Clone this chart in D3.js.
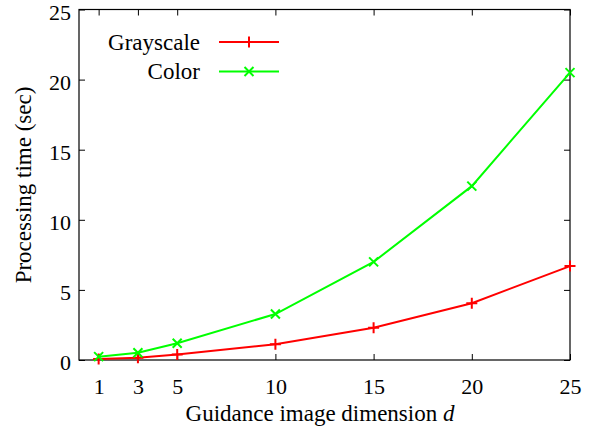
<!DOCTYPE html>
<html>
<head>
<meta charset="utf-8">
<script src="https://cdn.jsdelivr.net/npm/d3@7"></script>
</head>
<body style="margin:0; background:#fff">
<script>
var dims = [1, 3, 5, 10, 15, 20, 25];
var grayscale = [0.07, 0.16, 0.4, 1.12, 2.3, 4.05, 6.7];
var color = [0.24, 0.52, 1.19, 3.28, 7.0, 12.4, 20.5];
var yTicks = [0, 5, 10, 15, 20, 25];

var W = 590, H = 426;
var m = {left: 79, right: 20, top: 9.5, bottom: 66};
var FONT = "Liberation Serif";
var TICKFS = 22, LABFS = 23;

var svg = d3.select("body").append("svg")
    .attr("width", W)
    .attr("height", H);

var x = d3.scaleLinear().domain([0, 25]).range([m.left, W - m.right]);
var y = d3.scaleLinear().domain([0, 25]).range([H - m.bottom, m.top]);

// ticks, inward on all four sides
var tl = 6;
var axes = [];
axes.push(svg.append("g")
    .attr("transform", "translate(0," + y(0) + ")")
    .call(d3.axisBottom(x).tickValues(dims).tickSize(-tl).tickPadding(18)));
axes.push(svg.append("g")
    .attr("transform", "translate(0," + y(25) + ")")
    .call(d3.axisTop(x).tickValues(dims).tickSize(-tl).tickFormat("")));
var yAxis = svg.append("g")
    .attr("transform", "translate(" + x(0) + ",0)")
    .call(d3.axisLeft(y).tickValues(yTicks).tickSize(-tl).tickPadding(8));
axes.push(yAxis);
axes.push(svg.append("g")
    .attr("transform", "translate(" + x(25) + ",0)")
    .call(d3.axisRight(y).tickValues(yTicks).tickSize(-tl).tickFormat("")));

axes.forEach(function(g){
    g.select(".domain").remove();
    g.selectAll(".tick line").attr("stroke", "#000");
    g.selectAll(".tick text").attr("fill", "#000");
});
yAxis.selectAll(".tick text").attr("dy", "0.45em");

// frame
svg.append("rect")
    .attr("x", x(0)).attr("y", y(25))
    .attr("width", x(25) - x(0)).attr("height", y(0) - y(25))
    .attr("fill", "none").attr("stroke", "#000").attr("stroke-width", 1.2);

var line = d3.line()
    .x(function(d, i){ return x(dims[i]); })
    .y(function(d){ return y(d); });

function plus(g, cx, cy, s, c){
    g.append("path")
        .attr("d", "M" + (cx - s) + "," + cy + "H" + (cx + s) + "M" + cx + "," + (cy - s) + "V" + (cy + s))
        .attr("stroke", c).attr("stroke-width", 2).attr("fill", "none");
}
function cross(g, cx, cy, s, c){
    g.append("path")
        .attr("d", "M" + (cx - s) + "," + (cy - s) + "L" + (cx + s) + "," + (cy + s) +
                   "M" + (cx - s) + "," + (cy + s) + "L" + (cx + s) + "," + (cy - s))
        .attr("stroke", c).attr("stroke-width", 2).attr("fill", "none");
}

var series = [
    {name: "Grayscale", vals: grayscale, col: "#ff0000", mark: plus},
    {name: "Color", vals: color, col: "#00ff00", mark: cross}
];

var labels = [];
series.forEach(function(s, k){
    svg.append("path")
        .datum(s.vals)
        .attr("d", line)
        .attr("fill", "none")
        .attr("stroke", s.col)
        .attr("stroke-width", 2);
    s.vals.forEach(function(v, i){
        s.mark(svg, x(dims[i]), y(v), k == 0 ? 5.5 : 4.5, s.col);
    });

    // legend
    var ly = 42 + k * 29.5;
    labels.push(svg.append("text")
        .attr("x", 200).attr("y", ly).attr("dy", "0.33em")
        .attr("text-anchor", "end")
        .text(s.name));
    svg.append("line")
        .attr("x1", 219).attr("x2", 279).attr("y1", ly).attr("y2", ly)
        .attr("stroke", s.col).attr("stroke-width", 2);
    s.mark(svg, 249, ly, k == 0 ? 5.5 : 4.5, s.col);
});

// axis labels
var xl = svg.append("text")
    .attr("x", 320).attr("y", 421)
    .attr("text-anchor", "middle");
xl.append("tspan").text("Guidance image dimension ");
xl.append("tspan").attr("font-style", "italic").text("d");
labels.push(xl);

labels.push(svg.append("text")
    .attr("transform", "translate(31,185) rotate(-90)")
    .attr("text-anchor", "middle")
    .text("Processing time (sec)"));

// serif everywhere, set on each text
svg.selectAll("text")
    .attr("font-family", FONT)
    .attr("font-size", TICKFS);
labels.forEach(function(t){ t.attr("font-size", LABFS); });
</script>
</body>
</html>
